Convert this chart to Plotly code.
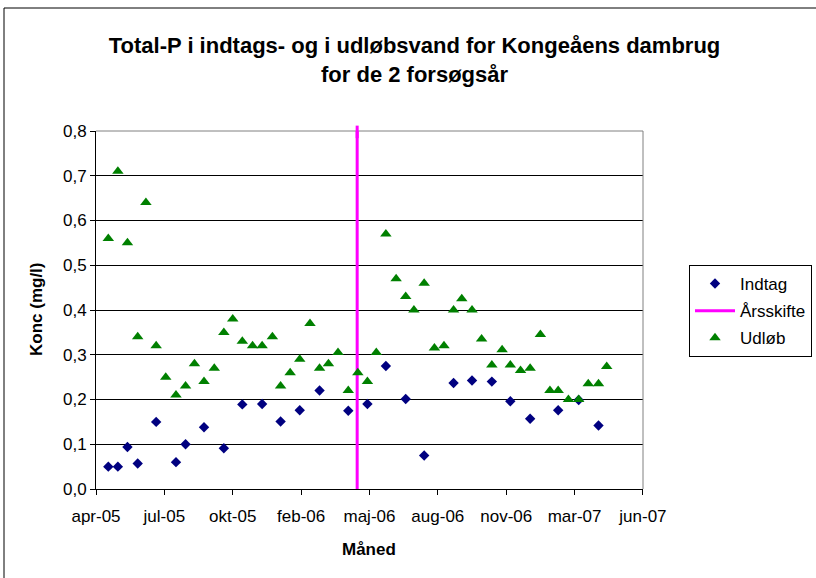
import pandas as pd
import plotly.graph_objects as go

# Udløb (udløbsvand), prøvedatoer og Total-P (mg/l)
datoer = [
    "2005-04-26", "2005-05-10", "2005-05-24", "2005-06-08", "2005-06-20",
    "2005-07-05", "2005-07-19", "2005-08-03", "2005-08-17", "2005-08-30",
    "2005-09-13", "2005-09-28", "2005-10-12", "2005-10-25", "2005-11-08",
    "2005-11-23", "2005-12-07", "2005-12-22", "2006-01-03", "2006-01-17",
    "2006-01-31", "2006-02-15", "2006-03-01", "2006-03-14", "2006-03-28",
    "2006-04-12", "2006-04-26", "2006-05-10", "2006-05-23", "2006-06-06",
    "2006-06-21", "2006-07-05", "2006-07-17", "2006-08-01", "2006-08-16",
    "2006-08-30", "2006-09-13", "2006-09-25", "2006-10-10", "2006-10-24",
    "2006-11-08", "2006-11-23", "2006-12-05", "2006-12-20", "2007-01-03",
    "2007-01-18", "2007-02-01", "2007-02-13", "2007-02-28", "2007-03-15",
    "2007-03-29", "2007-04-13", "2007-04-25",
]
udlob = [
    0.56, 0.71, 0.55, 0.34, 0.64,
    0.32, 0.25, 0.21, 0.23, 0.28,
    0.24, 0.27, 0.35, 0.38, 0.33,
    0.32, 0.32, 0.34, 0.23, 0.26,
    0.29, 0.37, 0.27, 0.28, 0.305,
    0.22, 0.26, 0.24, 0.305, 0.57,
    0.47, 0.43, 0.40, 0.46, 0.315,
    0.32, 0.40, 0.425, 0.40, 0.335,
    0.277, 0.311, 0.277, 0.265, 0.27,
    0.345, 0.22, 0.22, 0.20, 0.20,
    0.235, 0.235, 0.274,
]

# Indtag (indtagsvand)
indtag_datoer = [
    "2005-04-26", "2005-05-10", "2005-05-24", "2005-06-08", "2005-07-05",
    "2005-08-03", "2005-08-17", "2005-09-13", "2005-10-12", "2005-11-08",
    "2005-12-07", "2006-01-03", "2006-01-31", "2006-03-01", "2006-04-12",
    "2006-05-10", "2006-06-06", "2006-07-05", "2006-08-01", "2006-09-13",
    "2006-10-10", "2006-11-08", "2006-12-05", "2007-01-03", "2007-02-13",
    "2007-03-15", "2007-04-13",
]
indtag = [
    0.05, 0.05, 0.094, 0.057, 0.15,
    0.06, 0.10, 0.138, 0.091, 0.189,
    0.19, 0.151, 0.176, 0.22, 0.175,
    0.19, 0.275, 0.201, 0.075, 0.237,
    0.2425, 0.24, 0.196, 0.157, 0.176,
    0.199, 0.142,
]

# Årsskifte mellem de to forsøgsår
aarsskifte = "2006-04-25"
aarsskifte_y = [0, 0.8]

# x-akse (Excel-datoakse: min 38450, max 39250, hovedenhed 100 dage)
akse_start = "2005-04-08"
akse_slut = "2007-06-17"
x_labels = ["apr-05", "jul-05", "okt-05", "feb-06", "maj-06",
            "aug-06", "nov-06", "mar-07", "jun-07"]
x_ticks = [d.strftime("%Y-%m-%d") for d in
           pd.date_range(akse_start, akse_slut, freq="100D")]

FONT = "Liberation Sans, Arial, sans-serif"
W, H = 816, 578
ML, MR, MT, MB = 96, 173, 131, 89
PW, PH = W - ML - MR, H - MT - MB


def px_x(p):
    return (p - ML) / PW


def px_y(p):
    return (H - MB - p) / PH


fig = go.Figure()
fig.add_trace(go.Scatter(
    x=indtag_datoer, y=indtag, mode="markers", name="Indtag",
    legendgroup="a",
    marker=dict(symbol="diamond", size=8, color="#000080"),
))
fig.add_trace(go.Scatter(
    x=[aarsskifte, aarsskifte], y=aarsskifte_y, mode="lines", name="Årsskifte",
    legendgroup="b",
    line=dict(color="#FF00FF", width=3),
))
fig.add_trace(go.Scatter(
    x=datoer, y=udlob, mode="markers", name="Udløb",
    legendgroup="c",
    marker=dict(symbol="triangle-up", size=10, color="#008000"),
))

shapes = [
    # plotområdets grå kant (top og højre)
    dict(type="line", xref="paper", yref="paper", x0=0, x1=1, y0=1, y1=1,
         line=dict(color="#808080", width=1), layer="above"),
    dict(type="line", xref="paper", yref="paper", x0=1, x1=1, y0=0, y1=1,
         line=dict(color="#808080", width=1), layer="above"),
    # årsskiftelinjen rager lidt op over plotområdet
    dict(type="line", xref="x", yref="paper", x0=aarsskifte, x1=aarsskifte,
         y0=0.98, y1=1.015, line=dict(color="#FF00FF", width=3), layer="above"),
    # diagramkant
    dict(type="rect", xref="paper", yref="paper",
         x0=px_x(4), x1=px_x(W + 20), y0=px_y(H + 20), y1=px_y(8),
         line=dict(color="black", width=1), layer="below"),
]

fig.update_layout(
    width=W, height=H,
    margin=dict(l=ML, r=MR, t=MT, b=MB),
    paper_bgcolor="white", plot_bgcolor="white",
    separators=",.",
    font=dict(family=FONT, size=17, color="black"),
    title=dict(
        text="<b>Total-P i indtags- og i udløbsvand for Kongeåens dambrug<br>for de 2 forsøgsår</b>",
        font=dict(family=FONT, size=22, color="black"),
        xref="container", x=0.508, xanchor="center",
        yref="container", y=1 - 53 / H, yanchor="middle",
    ),
    xaxis=dict(
        type="date", range=[akse_start, akse_slut + " 02:00"],
        tickmode="array", tickvals=x_ticks, ticktext=x_labels,
        ticks="outside", ticklen=5, tickcolor="black",
        showline=True, linecolor="black", linewidth=1,
        showgrid=False, zeroline=False, ticklabelstandoff=7,
    ),
    yaxis=dict(
        range=[0, 0.8], tick0=0, dtick=0.1, tickformat=".1f",
        ticks="outside", ticklen=5, tickcolor="black",
        showline=True, linecolor="black", linewidth=1,
        showgrid=True, gridcolor="black", gridwidth=1, zeroline=False,
    ),
    legend=dict(
        xref="container", x=689 / W, xanchor="left",
        yref="container", y=1 - 265 / H, yanchor="top",
        bordercolor="black", borderwidth=1, bgcolor="white",
        font=dict(family=FONT, size=17),
        traceorder="grouped", tracegroupgap=2, itemwidth=40,
    ),
    showlegend=True,
    shapes=shapes,
    annotations=[
        dict(text="<b>Måned</b>", xref="paper", yref="paper",
             x=px_x(369), y=px_y(549), xanchor="center", yanchor="middle",
             showarrow=False, font=dict(family=FONT, size=17)),
        dict(text="<b>Konc (mg/l)</b>", xref="paper", yref="paper",
             x=px_x(36), y=px_y(309), xanchor="center", yanchor="middle",
             textangle=-90, showarrow=False, font=dict(family=FONT, size=17)),
    ],
)

# siden skal ikke have browserens standardmargen
fig.write_html("out.html", config={"displayModeBar": False},
               post_script="document.body.style.margin='0';")
